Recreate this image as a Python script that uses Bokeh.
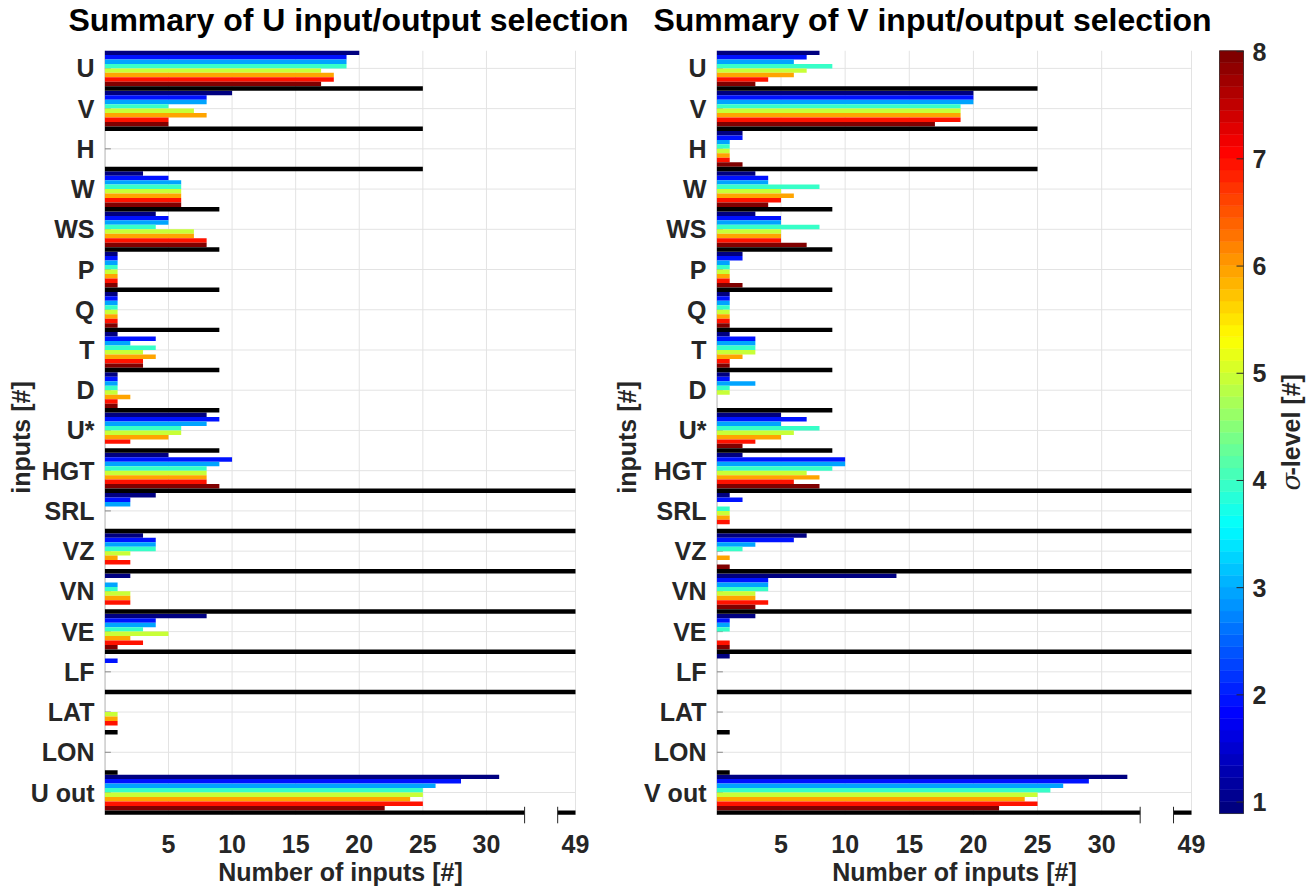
import math

from bokeh.core.properties import value
from bokeh.embed import file_html
from bokeh.layouts import column, row
from bokeh.models import FixedTicker, Range1d
from bokeh.plotting import figure
from bokeh.resources import INLINE

FONT = "Liberation Sans"
INK = "#262626"
GRID = "#e3e3e3"
TICK = "#8c8c8c"

# ---------------------------------------------------------------- data
input_names = ["U", "V", "H", "W", "WS", "P", "Q", "T", "D", "U*",
               "HGT", "SRL", "VZ", "VN", "VE", "LF", "LAT", "LON"]
sigma_levels = [1, 2, 3, 4, 5, 6, 7, 8]

# number of available inputs per input type (black bars)
available_inputs = [25, 25, 25, 9, 9, 9, 9, 9, 9, 9,
                    49, 49, 49, 49, 49, 49, 1, 1, 49]

# selected inputs for the U model, one row per input, one column per sigma level
u_counts = [
    [20, 19, 19, 19, 17, 18, 18, 17],   # U
    [10, 8, 8, 5, 7, 8, 5, 5],          # V
    [0, 0, 0, 0, 0, 0, 0, 0],           # H
    [3, 5, 6, 6, 6, 6, 6, 6],           # W
    [4, 5, 5, 4, 7, 7, 8, 8],           # WS
    [1, 1, 1, 1, 1, 1, 1, 1],           # P
    [1, 1, 1, 1, 1, 1, 1, 1],           # Q
    [1, 4, 2, 4, 3, 4, 3, 3],           # T
    [1, 1, 1, 1, 1, 2, 1, 1],           # D
    [8, 9, 8, 6, 6, 5, 2, 0],           # U*
    [5, 10, 9, 8, 8, 8, 8, 9],          # HGT
    [4, 2, 2, 0, 0, 0, 0, 0],           # SRL
    [3, 4, 4, 4, 2, 1, 2, 0],           # VZ
    [2, 0, 1, 1, 2, 2, 2, 0],           # VN
    [8, 4, 4, 3, 5, 2, 3, 1],           # VE
    [0, 1, 0, 0, 0, 0, 0, 0],           # LF
    [0, 0, 0, 0, 1, 1, 1, 0],           # LAT
    [0, 0, 0, 0, 0, 0, 0, 0],           # LON
    [31, 28, 26, 25, 25, 24, 25, 22],   # U out
]

# selected inputs for the V model
v_counts = [
    [8, 7, 6, 9, 7, 6, 4, 3],           # U
    [20, 20, 20, 19, 19, 19, 19, 17],   # V
    [2, 2, 1, 1, 1, 1, 1, 2],           # H
    [3, 4, 4, 8, 5, 6, 5, 4],           # W
    [3, 5, 5, 8, 5, 5, 5, 7],           # WS
    [2, 2, 1, 1, 1, 1, 1, 2],           # P
    [1, 1, 1, 1, 1, 1, 1, 1],           # Q
    [1, 3, 3, 3, 3, 2, 1, 1],           # T
    [1, 1, 3, 1, 1, 0, 0, 0],           # D
    [5, 7, 5, 8, 6, 5, 3, 2],           # U*
    [2, 10, 10, 9, 7, 8, 6, 8],         # HGT
    [1, 2, 0, 1, 1, 1, 1, 0],           # SRL
    [7, 6, 3, 2, 0, 1, 0, 1],           # VZ
    [14, 4, 4, 4, 3, 3, 4, 3],          # VN
    [3, 1, 1, 1, 0, 0, 1, 1],           # VE
    [1, 0, 0, 0, 0, 0, 0, 0],           # LF
    [0, 0, 0, 0, 0, 0, 0, 0],           # LAT
    [0, 0, 0, 0, 0, 0, 0, 0],           # LON
    [32, 29, 27, 26, 25, 24, 25, 22],   # V out
]

x_ticks = [5, 10, 15, 20, 25, 30]
titles = ["Summary of U input/output selection",
          "Summary of V input/output selection"]

# ---------------------------------------------------------------- broken x axis
AXIS_MAX_VALUE = 49   # largest count, drawn at the right end of the axis
LOWER_END = 33        # counts up to here are drawn to scale
GAP_END = 35.6        # axis position where the upper segment starts
AXIS_END = 37         # axis position of AXIS_MAX_VALUE


def to_axis(v):
    if v <= LOWER_END:
        return v
    return AXIS_END - (AXIS_MAX_VALUE - v)


# ---------------------------------------------------------------- jet colours
def jet(t):
    def ch(c):
        return max(0.0, min(1.0, 1.5 - abs(4 * t - c)))
    r, g, b = ch(3), ch(2), ch(1)
    return "#%02x%02x%02x" % (round(r * 255), round(g * 255), round(b * 255))


level_colors = [jet(k / 7) for k in range(len(sigma_levels))]

# ---------------------------------------------------------------- geometry
HEAD_H = 50
PAGE_H = 891
GROUP_PX = 40.23
FRAME_H = 774
Y_TOP = -4 / 9
Y_BOTTOM = Y_TOP + FRAME_H / GROUP_PX
X_START, X_END = -0.03, 37.08
BAR_H = 1 / 9


def style_axis(ax, standoff, label_standoff):
    ax.axis_line_color = None
    ax.major_tick_line_color = None
    ax.minor_tick_line_color = None
    ax.major_label_text_font = FONT
    ax.major_label_text_font_style = "bold"
    ax.major_label_text_font_size = "25px"
    ax.major_label_text_color = INK
    ax.major_label_standoff = standoff
    ax.axis_label_text_font = FONT
    ax.axis_label_text_font_style = "bold"
    ax.axis_label_text_font_size = "25px"
    ax.axis_label_text_color = INK
    ax.axis_label_standoff = label_standoff


def panel(counts, out_label, frame_w, border_left, border_right, ylabel_standoff):
    labels = input_names + [out_label]
    n = len(labels)
    p = figure(frame_width=frame_w, frame_height=FRAME_H,
               min_border_left=border_left, min_border_right=border_right,
               min_border_top=0, min_border_bottom=PAGE_H - HEAD_H - FRAME_H,
               x_range=Range1d(X_START, X_END), y_range=Range1d(Y_BOTTOM, Y_TOP),
               output_backend="svg", toolbar_location=None,
               outline_line_color=None, background_fill_color="white",
               border_fill_color="white")
    p.xgrid.visible = False
    p.ygrid.visible = False
    px_per_unit = frame_w / (X_END - X_START)
    last_bottom = (n - 1) + 5 / 9
    cats = list(range(n))

    # grid lines
    gx = x_ticks + [AXIS_END]
    p.segment(x0=gx, x1=gx, y0=[Y_TOP] * len(gx), y1=[last_bottom] * len(gx),
              line_color=GRID, line_width=1)
    p.segment(x0=[0] * n, x1=[AXIS_END] * n, y0=cats, y1=cats,
              line_color=GRID, line_width=1)
    # inward tick marks and left axis line
    p.segment(x0=[0] * n, x1=[6 / px_per_unit] * n, y0=cats, y1=cats,
              line_color=TICK, line_width=1)
    p.segment(x0=[0], x1=[0], y0=[Y_TOP], y1=[last_bottom],
              line_color=TICK, line_width=1)

    # coloured bars, one per sigma level
    ys, rights, colors = [], [], []
    for i, row_counts in enumerate(counts):
        for j, c in enumerate(row_counts):
            if c > 0:
                ys.append(i + (j - 3.5) / 9)
                rights.append(to_axis(c))
                colors.append(level_colors[j])
    p.hbar(y=ys, left=0, right=rights, height=BAR_H,
           fill_color=colors, line_color=None)

    # available inputs (black bars)
    p.hbar(y=[i + 0.5 for i in cats], left=0,
           right=[to_axis(a) for a in available_inputs], height=BAR_H,
           fill_color="black", line_color=None)

    # axis break marker on the bottom bar
    bar_top = (n - 1) + 4 / 9
    p.quad(left=[LOWER_END], right=[GAP_END], top=[bar_top - 0.02],
           bottom=[last_bottom + 0.02], fill_color="white", line_color=None)
    p.segment(x0=[LOWER_END, GAP_END], x1=[LOWER_END, GAP_END],
              y0=[bar_top - 0.09] * 2, y1=[last_bottom + 0.21] * 2,
              line_color=INK, line_width=1)

    p.xaxis.ticker = FixedTicker(ticks=x_ticks + [AXIS_END])
    p.xaxis.major_label_overrides = {AXIS_END: str(AXIS_MAX_VALUE)}
    p.xaxis.axis_label = "Number of inputs [#]"
    style_axis(p.xaxis[0], 4, 2)

    p.yaxis.ticker = FixedTicker(ticks=cats)
    p.yaxis.major_label_overrides = {i: labels[i] for i in cats}
    p.yaxis.axis_label = "inputs [#]"
    style_axis(p.yaxis[0], 4, ylabel_standoff)
    return p


left = panel(u_counts, "U out", 472, 104, 24, -7)
right = panel(v_counts, "V out", 476, 116, 23, 0)
PANELS_W = 600 + 615

# ---------------------------------------------------------------- titles
head = figure(width=PANELS_W, height=HEAD_H,
              x_range=Range1d(0, PANELS_W), y_range=Range1d(HEAD_H, 0),
              min_border=0, x_axis_location=None, y_axis_location=None,
              toolbar_location=None, output_backend="svg",
              outline_line_color=None)
head.grid.visible = False
head.text(x=[348, 932], y=[19, 19], text=titles,
          text_font=value(FONT), text_font_style="bold", text_font_size="32px",
          text_align="center", text_baseline="middle", text_color="black")

# ---------------------------------------------------------------- colour bar
CB_LO, CB_HI = 0.893, 8.008      # colour limits of the bar
CB_PX = 107.2                     # pixels per sigma level
CB_TOP = 50.3                     # page offset of the top of the bar
CB_X0, CB_X1 = 4, 28              # bar edges inside the colour-bar panel
N_BANDS = 64
cb_w = 1314 - PANELS_W
CB_Y_TOP = CB_HI + CB_TOP / CB_PX


def cb_y(page_y):
    """Colour-bar data coordinate of a page row."""
    return CB_Y_TOP - page_y / CB_PX


cb = figure(width=cb_w, height=PAGE_H, min_border=0,
            x_range=Range1d(0, cb_w), y_range=Range1d(cb_y(PAGE_H), CB_Y_TOP),
            x_axis_location=None, y_axis_location=None,
            toolbar_location=None, output_backend="svg",
            outline_line_color=None)
cb.grid.visible = False
step = (CB_HI - CB_LO) / N_BANDS
band_colors = [jet(k / (N_BANDS - 1)) for k in range(N_BANDS)]
cb.quad(left=CB_X0, right=CB_X1,
        bottom=[CB_LO + k * step for k in range(N_BANDS)],
        top=[CB_LO + (k + 1) * step for k in range(N_BANDS)],
        fill_color=band_colors, line_color=band_colors, line_width=0.5)
cb.quad(left=[CB_X0], right=[CB_X1], bottom=[CB_LO], top=[CB_HI],
        fill_color=None, line_color=INK, line_alpha=0.7, line_width=1)
# inward ticks and their labels
cb.segment(x0=[CB_X1 - 7] * len(sigma_levels), x1=[CB_X1] * len(sigma_levels),
           y0=sigma_levels, y1=sigma_levels, line_color=INK, line_width=1)
cb.text(x=[CB_X1 + 9] * len(sigma_levels), y=sigma_levels,
        text=[str(s) for s in sigma_levels],
        text_font=value(FONT), text_font_style="bold", text_font_size="25px",
        text_align="left", text_baseline="middle", text_color=INK)
# colour-bar title, read bottom to top: italic sigma followed by the bold rest
cb.text(x=[75], y=[cb_y(490)], text=["σ"], angle=math.pi / 2,
        text_font=value("DejaVu Serif"), text_font_style="italic",
        text_font_size="26px", text_align="left", text_baseline="middle",
        text_color=INK)
cb.text(x=[75], y=[cb_y(475)], text=["-level [#]"], angle=math.pi / 2,
        text_font=value(FONT), text_font_style="bold", text_font_size="25px",
        text_align="left", text_baseline="middle", text_color=INK)

layout = row(column(head, row(left, right)), cb)
open("out.html", "w").write(file_html(layout, INLINE))
